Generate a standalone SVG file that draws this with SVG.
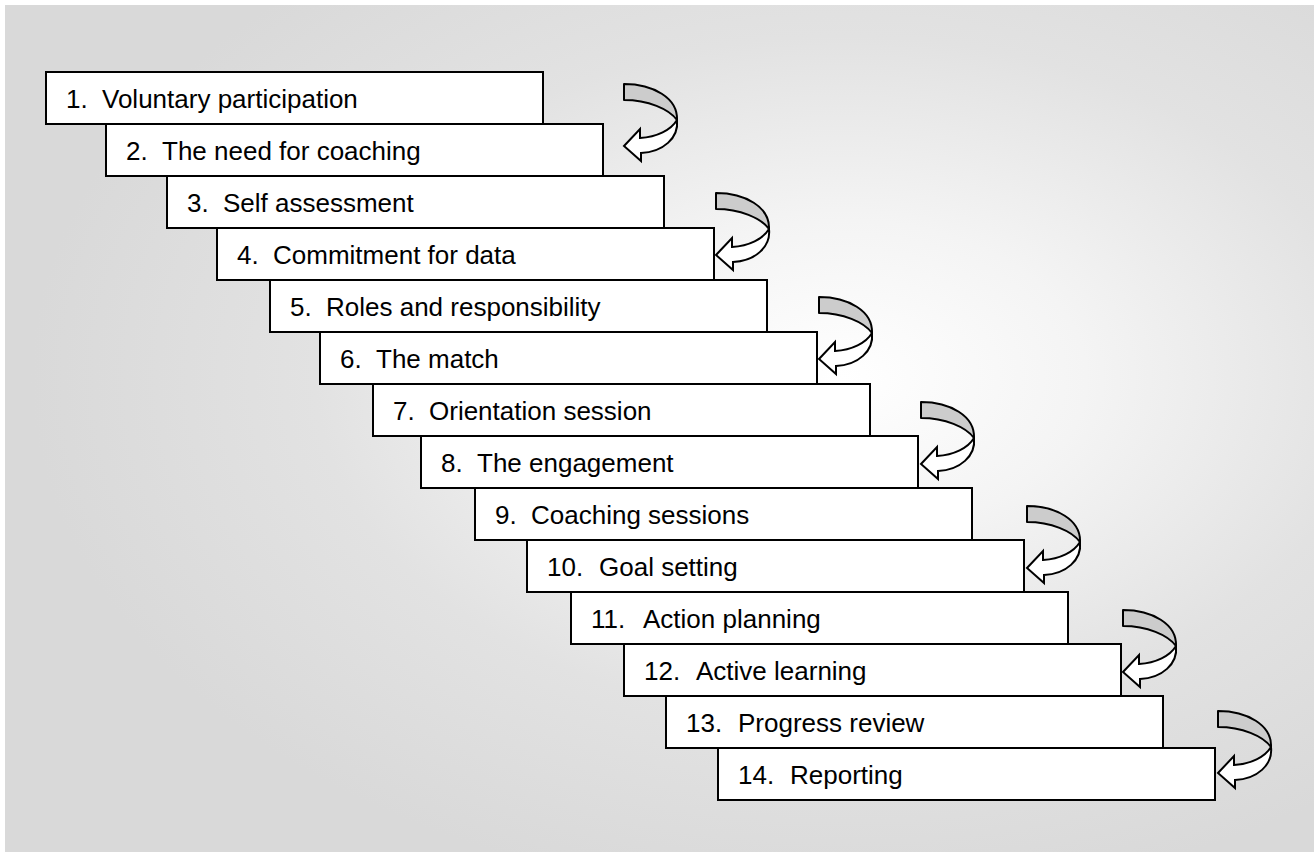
<svg xmlns="http://www.w3.org/2000/svg" xmlns:xlink="http://www.w3.org/1999/xlink" width="1314" height="852" viewBox="0 0 1314 852">
  <defs>
    <radialGradient id="bgGrad" cx="0.64" cy="0.44" r="0.62" gradientUnits="objectBoundingBox">
      <stop offset="0" stop-color="#ffffff"/>
      <stop offset="0.3" stop-color="#f4f4f4"/>
      <stop offset="0.65" stop-color="#e2e2e2"/>
      <stop offset="1" stop-color="#d9d9d9"/>
    </radialGradient>
    <!-- twisted U-turn ribbon arrow, tail at the local origin -->
    <g id="uturn">
      <path class="back" d="M0,0 C29,0 54,14 53,36 C45,25 24,16 0,16 Z"/>
      <path class="front" d="M53,36 C55,54 39,68 17,69 L17,77 L0,62 L16,45 L16,54 C33,53 47,46 53,36 Z"/>
    </g>
  </defs>
  <style>
    .step rect { fill: #ffffff; stroke: #000000; stroke-width: 2; }
    .step text { font-family: "Liberation Sans", Arial, sans-serif; font-size: 26px; fill: #000000; }
    .back { fill: #cccccc; stroke: #000000; stroke-width: 2; stroke-linejoin: round; }
    .front { fill: #ffffff; stroke: #000000; stroke-width: 2; stroke-linejoin: miter; }
  </style>

  <rect x="0" y="0" width="1314" height="852" fill="#ffffff"/>
  <rect x="5" y="5" width="1309" height="847" fill="url(#bgGrad)"/>

  <g id="step1" class="step"><rect x="46" y="72" width="497" height="52"/><text y="108"><tspan x="66">1.</tspan><tspan x="102">Voluntary participation</tspan></text></g>
  <g id="step2" class="step"><rect x="106" y="124" width="497" height="52"/><text y="160"><tspan x="126">2.</tspan><tspan x="162">The need for coaching</tspan></text></g>
  <g id="step3" class="step"><rect x="167" y="176" width="497" height="52"/><text y="212"><tspan x="187">3.</tspan><tspan x="223">Self assessment</tspan></text></g>
  <g id="step4" class="step"><rect x="217" y="228" width="497" height="52"/><text y="264"><tspan x="237">4.</tspan><tspan x="273">Commitment for data</tspan></text></g>
  <g id="step5" class="step"><rect x="270" y="280" width="497" height="52"/><text y="316"><tspan x="290">5.</tspan><tspan x="326">Roles and responsibility</tspan></text></g>
  <g id="step6" class="step"><rect x="320" y="332" width="497" height="52"/><text y="368"><tspan x="340">6.</tspan><tspan x="376">The match</tspan></text></g>
  <g id="step7" class="step"><rect x="373" y="384" width="497" height="52"/><text y="420"><tspan x="393">7.</tspan><tspan x="429">Orientation session</tspan></text></g>
  <g id="step8" class="step"><rect x="421" y="436" width="497" height="52"/><text y="472"><tspan x="441">8.</tspan><tspan x="477">The engagement</tspan></text></g>
  <g id="step9" class="step"><rect x="475" y="488" width="497" height="52"/><text y="524"><tspan x="495">9.</tspan><tspan x="531">Coaching sessions</tspan></text></g>
  <g id="step10" class="step"><rect x="527" y="540" width="497" height="52"/><text y="576"><tspan x="547">10.</tspan><tspan x="599">Goal setting</tspan></text></g>
  <g id="step11" class="step"><rect x="571" y="592" width="497" height="52"/><text y="628"><tspan x="591">11.</tspan><tspan x="643">Action planning</tspan></text></g>
  <g id="step12" class="step"><rect x="624" y="644" width="497" height="52"/><text y="680"><tspan x="644">12.</tspan><tspan x="696">Active learning</tspan></text></g>
  <g id="step13" class="step"><rect x="666" y="696" width="497" height="52"/><text y="732"><tspan x="686">13.</tspan><tspan x="738">Progress review</tspan></text></g>
  <g id="step14" class="step"><rect x="718" y="748" width="497" height="52"/><text y="784"><tspan x="738">14.</tspan><tspan x="790">Reporting</tspan></text></g>

  <g id="connectors">
    <use xlink:href="#uturn" href="#uturn" x="624" y="84"/>
    <use xlink:href="#uturn" href="#uturn" x="716" y="193"/>
    <use xlink:href="#uturn" href="#uturn" x="819" y="297"/>
    <use xlink:href="#uturn" href="#uturn" x="921" y="402"/>
    <use xlink:href="#uturn" href="#uturn" x="1027" y="506"/>
    <use xlink:href="#uturn" href="#uturn" x="1123" y="610"/>
    <use xlink:href="#uturn" href="#uturn" x="1218" y="711"/>
  </g>
</svg>
